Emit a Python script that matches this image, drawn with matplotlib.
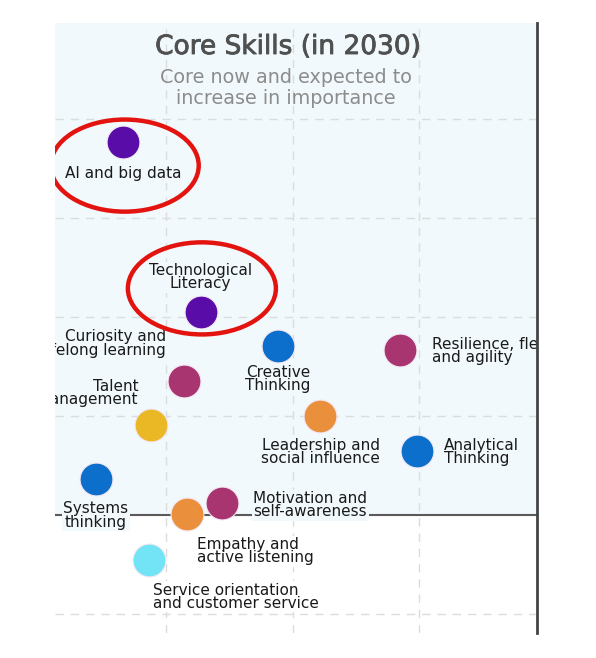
#!usr/bin/env python3

# core skills 2030 - quadrant excerpt

import matplotlib.pyplot as plt
import matplotlib.patheffects as pe
from matplotlib.patches import Ellipse

# skill names, x position, y position (arbitrary quadrant units)
skills = ["AI and big data", "Technological\nLiteracy", "Curiosity and\nlifelong learning",
          "Talent\nmanagement", "Creative\nThinking", "Resilience, flexibility\nand agility",
          "Leadership and\nsocial influence", "Analytical\nThinking", "Systems\nthinking",
          "Motivation and\nself-awareness", "Empathy and\nactive listening",
          "Service orientation\nand customer service"]
x_vals = [0.66, 1.27, 1.14, 0.88, 1.88, 2.85, 2.21, 2.98, 0.44, 1.44, 1.16, 0.86]
y_vals = [3.77, 2.05, 1.35, 0.91, 1.71, 1.67, 1.00, 0.65, 0.37, 0.12, 0.01, -0.45]
groups = ["tech", "tech", "self", "mgmt", "cog", "self", "eng", "cog", "cog", "self", "eng", "serv"]

highlighted = ["AI and big data", "Technological\nLiteracy"]

colors = {"tech": "#5a0ca8", "cog": "#0b6fcb", "self": "#a8356f",
          "mgmt": "#e9b824", "eng": "#ea8f3c", "serv": "#72e4f6"}

# label placement: offset in pixels, horizontal alignment
label_pos = {
	"AI and big data": ((0, -32), "center"),
	"Technological\nLiteracy": ((0, 35), "center"),
	"Curiosity and\nlifelong learning": ((-18, 38), "right"),
	"Talent\nmanagement": ((-13, 32), "right"),
	"Creative\nThinking": ((0, -33), "center"),
	"Resilience, flexibility\nand agility": ((32, -1), "left"),
	"Leadership and\nsocial influence": ((1, -36), "center"),
	"Analytical\nThinking": ((27, -1), "left"),
	"Systems\nthinking": ((0, -37), "center"),
	"Motivation and\nself-awareness": ((31, -2), "left"),
	"Empathy and\nactive listening": ((10, -37), "left"),
	"Service orientation\nand customer service": ((4, -37), "left"),
}

BG = "#f1f9fc"
FONT = "DejaVu Sans"


def main():
	fig = plt.figure(figsize=(5.96, 6.58), dpi=100)
	ax = fig.add_axes([55 / 596, 25 / 658, 482 / 596, 610 / 658])
	ax.set_xlim(0.119, 3.929)
	ax.set_ylim(-1.19, 4.97)
	ax.set_facecolor("white")
	ax.axhspan(0, 4.97, color=BG, zorder=0)

	for gx in [1, 2, 3]:
		ax.axvline(gx, color="#dcdcdc", lw=1, ls=(0, (6, 5)), zorder=1)
	for gy in [-1, 1, 2, 3, 4]:
		ax.axhline(gy, color="#dcdcdc", lw=1, ls=(0, (6, 5)), zorder=1)
	ax.axhline(0, color="#5a5a5a", lw=1.5, zorder=2)

	for s in ["top", "left", "bottom"]:
		ax.spines[s].set_visible(False)
	ax.spines["right"].set_color("#444444")
	ax.spines["right"].set_linewidth(2)
	ax.spines["right"].set_zorder(10)
	ax.set_xticks([])
	ax.set_yticks([])

	for name, x, y, g in zip(skills, x_vals, y_vals, groups):
		ax.scatter(x, y, s=560, color=colors[g], edgecolors="#f4e6f4", linewidths=0.8, zorder=5)
		off, ha = label_pos[name]
		bg = BG if y + off[1] / 99 > -0.1 else "white"
		ax.annotate(name, (x, y), xytext=off, textcoords="offset pixels", ha=ha, va="center",
			fontsize=11, family=FONT, color="#1a1a1a", linespacing=0.84,
			bbox=dict(boxstyle="square,pad=0.1", fc=bg, ec="none"), zorder=4,
			annotation_clip=False, clip_on=True)

	# red rings round the highlighted skills
	ring_shift = {"AI and big data": -0.24, "Technological\nLiteracy": 0.24}
	for name in highlighted:
		i = skills.index(name)
		e = Ellipse((x_vals[i] + 0.01, y_vals[i] + ring_shift[name]), 1.17, 0.93,
			fill=False, ec="#e3140f", lw=3.2, zorder=6)
		ax.add_patch(e)

	title = fig.text(288 / 596, 1 - 47 / 658, "Core Skills (in 2030)", ha="center", va="center",
		fontsize=19, family=FONT, color="#505050")
	title.set_path_effects([pe.withStroke(linewidth=0.6, foreground="#505050")])
	fig.text(286 / 596, 1 - 88 / 658, "Core now and expected to\nincrease in importance",
		ha="center", va="center", fontsize=13.8, family=FONT, color="#8c8c8c",
		linespacing=1.1)

	fig.savefig("out.png", dpi=100)


if __name__ == "__main__":
	main()
